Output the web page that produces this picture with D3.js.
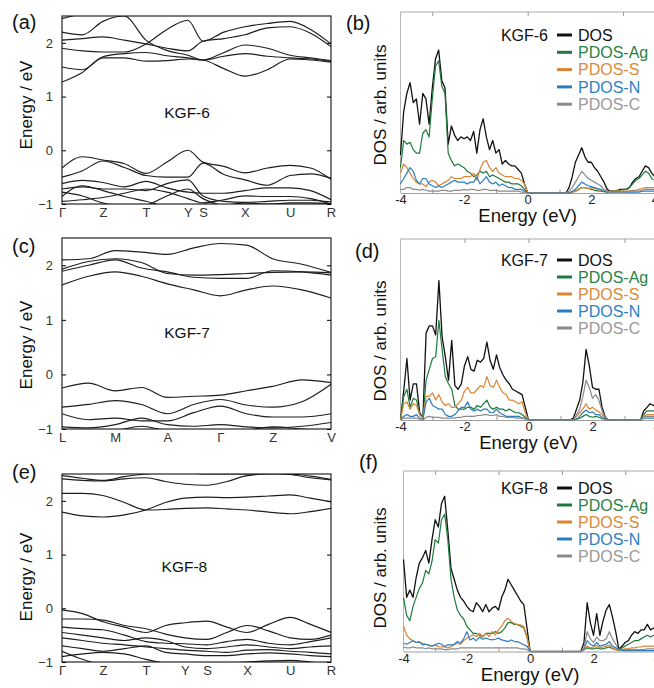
<!DOCTYPE html>
<html><head><meta charset="utf-8">
<script src="https://cdn.jsdelivr.net/npm/d3@7"></script>
<style>
body{margin:0;background:#fff}
text{font-family:"Liberation Sans",Arial,Helvetica,sans-serif}
</style>
</head><body>
<svg id="fig" width="654" height="688"></svg>
<script>
// ---------- band structure data (energies in eV along the k-path) ----------
const energyTicks = [-1, 0, 1, 2];

const kgf6Labels = ["Γ","Z","T","Y","S","X","U","R"];
const kgf6LabelPos = [0, 0.152, 0.312, 0.468, 0.524, 0.680, 0.848, 1.0];
const kgf6Grid = [0, 0.076, 0.152, 0.232, 0.312, 0.39, 0.468, 0.524, 0.602, 0.680, 0.764, 0.848, 0.924, 1.0];
const kgf6Bands = [
  [1.27, 1.45, 1.72, 1.72, 1.66, 1.67, 1.7, 1.68, 1.52, 1.38, 1.5, 1.7, 1.68, 1.64],
  [1.55, 1.5, 1.74, 1.8, 1.82, 1.76, 1.72, 1.68, 1.82, 1.96, 1.9, 1.77, 1.72, 1.67],
  [1.9, 1.85, 1.83, 1.83, 1.98, 2.25, 2.42, 2.03, 2.2, 2.3, 2.36, 2.4, 2.25, 1.98],
  [2.05, 2.08, 2.11, 2.05, 1.98, 1.9, 1.85, 2.03, 2.08, 2.15, 2.28, 2.3, 2.18, 1.93],
  [2.2, 2.15, 2.4, 2.5, 2.05, 1.86, 1.77, 1.68, 1.75, 1.8, 1.75, 1.72, 1.7, 1.66],
  [2.45, 2.55, 2.65, 2.6, 2.6, 2.6, 2.6, 2.6, 2.6, 2.6, 2.6, 2.6, 2.6, 2.6],
  [-0.33, -0.12, -0.18, -0.25, -0.43, -0.22, 0.0, -0.22, -0.3, -0.42, -0.33, -0.28, -0.33, -0.54],
  [-0.5, -0.38, -0.2, -0.32, -0.47, -0.5, -0.5, -0.24, -0.45, -0.55, -0.65, -0.47, -0.44, -0.52],
  [-0.62, -0.56, -0.6, -0.68, -0.58, -0.7, -0.78, -0.8, -0.8, -0.75, -0.7, -0.7, -0.75, -0.92],
  [-0.72, -0.68, -0.72, -0.72, -0.75, -0.62, -0.55, -0.85, -0.95, -0.97, -0.95, -0.93, -0.93, -0.96],
  [-0.78, -0.85, -0.98, -1.05, -1.02, -0.85, -0.72, -0.9, -1.02, -0.98, -1.0, -0.98, -0.98, -0.99],
  [-0.86, -0.66, -0.75, -0.86, -0.95, -1.05, -1.1, -1.1, -1.1, -1.1, -1.1, -1.1, -1.1, -1.1],
  [-0.95, -0.92, -0.88, -0.8, -0.72, -0.78, -0.9, -0.98, -0.92, -0.85, -0.86, -0.86, -0.9, -1.0]
];

const kgf7Labels = ["L","M","A","Γ","Z","V"];
const kgf7LabelPos = [0, 0.198, 0.392, 0.589, 0.783, 1.0];
const kgf7Grid = [0, 0.099, 0.198, 0.295, 0.392, 0.49, 0.589, 0.686, 0.783, 0.892, 1.0];
const kgf7Bands = [
  [1.64, 1.8, 1.88, 1.8, 1.66, 1.55, 1.44, 1.55, 1.62, 1.55, 1.4],
  [1.89, 2.0, 2.1, 1.95, 1.88, 1.78, 1.76, 1.76, 1.9, 1.88, 1.82],
  [1.93, 2.07, 2.12, 2.05, 1.85, 1.82, 1.83, 1.85, 1.87, 1.88, 1.86],
  [2.1, 2.12, 2.27, 2.24, 2.2, 2.32, 2.4, 2.37, 2.12, 2.02, 1.87],
  [-0.25, -0.16, -0.3, -0.24, -0.42, -0.4, -0.38, -0.3, -0.22, -0.1, -0.15],
  [-0.6, -0.55, -0.48, -0.55, -0.72, -0.55, -0.46, -0.56, -0.6, -0.5, -0.18],
  [-0.72, -0.83, -0.8, -0.85, -0.85, -0.7, -0.58, -0.72, -0.78, -0.78, -0.72],
  [-0.96, -0.98, -0.92, -0.8, -0.92, -0.95, -0.92, -0.96, -0.98, -0.95, -0.88],
  [-1.02, -1.05, -1.03, -0.95, -1.03, -1.05, -1.05, -1.02, -0.96, -1.0, -1.05]
];

const kgf8Labels = ["Γ","Z","T","Y","S","X","U","R"];
const kgf8LabelPos = [0, 0.152, 0.312, 0.457, 0.539, 0.688, 0.848, 1.0];
const kgf8Grid = [0, 0.076, 0.152, 0.232, 0.312, 0.385, 0.457, 0.539, 0.613, 0.688, 0.768, 0.848, 0.924, 1.0];
const kgf8Bands = [
  [1.79, 1.72, 1.7, 1.74, 1.83, 1.97, 2.05, 2.07, 2.06, 2.07, 2.09, 2.11, 2.05, 1.98],
  [2.14, 2.14, 2.1, 1.97, 1.83, 1.84, 1.86, 1.87, 1.85, 1.83, 1.79, 1.76, 1.8, 1.86],
  [2.41, 2.38, 2.37, 2.41, 2.43, 2.36, 2.31, 2.29, 2.36, 2.47, 2.5, 2.5, 2.46, 2.4],
  [2.47, 2.42, 2.38, 2.45, 2.5, 2.52, 2.52, 2.5, 2.5, 2.5, 2.52, 2.49, 2.43, 2.39],
  [-0.03, -0.1, -0.25, -0.35, -0.45, -0.32, -0.27, -0.24, -0.35, -0.45, -0.3, -0.17, -0.3, -0.45],
  [-0.2, -0.2, -0.22, -0.32, -0.38, -0.48, -0.55, -0.58, -0.45, -0.32, -0.42, -0.55, -0.58, -0.5],
  [-0.35, -0.38, -0.4, -0.5, -0.62, -0.65, -0.66, -0.68, -0.62, -0.58, -0.65, -0.68, -0.62, -0.55],
  [-0.45, -0.5, -0.55, -0.6, -0.55, -0.6, -0.72, -0.75, -0.72, -0.68, -0.72, -0.75, -0.72, -0.7],
  [-0.55, -0.6, -0.65, -0.68, -0.72, -0.75, -0.78, -0.8, -0.82, -0.78, -0.77, -0.8, -0.82, -0.85],
  [-0.7, -0.75, -0.8, -0.75, -0.7, -0.82, -0.85, -0.88, -0.88, -0.85, -0.83, -0.85, -0.88, -0.9],
  [-0.8, -0.95, -1.06, -1.1, -1.1, -1.1, -1.1, -1.1, -1.1, -1.1, -1.1, -1.1, -1.1, -1.1],
  [-0.9, -0.85, -0.82, -0.85, -0.95, -1.02, -1.05, -1.05, -1.02, -1.0, -0.98, -0.97, -1.0, -1.05]
];

// ---------- density of states (arb. units) on a 0.1 eV grid, -4.0 ... 4.0 eV ----------
const dosEnergy = d3.range(81).map(i => Math.round((-4 + i * 0.1) * 10) / 10);
const dosTicks = [-4, -2, 0, 2, 4];
const dosMinorTicks = [-3, -1, 1, 3];
const dosSeries = ["DOS", "PDOS-Ag", "PDOS-S", "PDOS-N", "PDOS-C"];

const dos6 = [21,45,55,61,50,52,38,55,52,38, 58,74,79,62,58,27,37,32,29,31, 30,31,29,34,22,35,41,31,24,29, 22,24,16,18,16,15,15,13,11,5,
  0,0,0,0,0,0,0,0,0,0, 0,0,0,3,9,17,21,25,20,17, 17,14,12,9,6,2,1,1,1,2, 2,2,3,6,8,9,12,15,14,11, 9];
const ag6 = [14,29,27,28,24,22,22,33,35,31, 52,70,73,59,55,22,18,15,16,15, 14,12,11,9,10,12,11,12,9,10, 9,8,7,6,6,5,5,5,4,2,
  0,0,0,0,0,0,0,0,0,0, 0,0,0,0,0.5,1,2,3,3,2.5, 2,1.5,1.2,1,0.7,0.5,1,1,1.5,1.5, 2,2,3,5,7,8,10,12,11,8, 7];
const s6 = [11,16,14,11,8,6,5,5,3.5,6, 7,6,4,5,6,7,9,8,8,8, 9,9,9,11,7,13,17,18,14,12, 14,11,10,9,9,9,8,8,7,5,
  0,0,0,0,0,0,0,0,0,0, 0,0,0,0,0.5,1,2,3,3,2.5, 3,2.5,2,1.5,1,0.5,1,1,1,1, 1,1,1,1.5,1.5,2,2.5,3,3,3, 3];
const n6 = [5,8,11,14,12,7,5,8,8,5, 4,3,4,3,4,5,6,7,6,6, 6,5,6,6,9,5,7,9,6,5, 6,4,5,4,3,3,2,2,2,1,
  0,0,0,0,0,0,0,0,0,0, 0,0,0,0,1,2,4,6,5,4, 3.5,3,2.5,2,1,0.5,0.5,0.5,0.5,0.5, 0.5,0.5,0.5,0.5,0.5,0.5,1,1,1,1, 1];
const c6 = [2,2,3,3,2,2,1.5,2,1.5,1, 1,1,1,1.5,1.5,1,1,1.5,1.5,1.5, 2,1.5,2,2,1.5,1.5,2,2,1.5,1.5, 1.5,1,1,1,1,1,1,1,0.5,0.5,
  0,0,0,0,0,0,0,0,0,0, 0,0,0,1,3,6,9,12,10,8, 7,6,5,4,2,1,0.5,0.5,0.5,0.5, 0.5,0.5,1,1,1,1,1.5,2,2,2, 2];

const dos7 = [0,16,34,11,20,20,4,1,48,52, 52,47,77,46,35,22,44,19,17,20, 30,35,28,27,33,32,34,43,33,28, 36,29,25,22,20,17,16,15,14,7,
  0,0,0,0,0,0,0,0,0,0, 0,0,0,0,1,6,11,21,39,30, 18,17,17,7,1.5,0,0,0,0,0, 0,0,0,0,0,0,5,7,9,8, 8];
const ag7 = [0,13,17,7,12,11,3,1,22,28, 34,35,55,39,24,20,17,8,6,6, 6,7,7,6,8,7,9,11,7,6, 7,6,6,5,6,5,4,4,3,1.5,
  0,0,0,0,0,0,0,0,0,0, 0,0,0,0,0,0.5,1,2,3,2, 1.5,2,1.5,0.7,0.3,0,0,0,0,0, 0,0,0,0,0,0,3,5,5,5, 5];
const s7 = [0,9,10,6,9,8,3,1,13,13, 15,11,14,10,8,9,7,7,9,11, 16,18,15,15,17,19,18,24,19,18, 22,18,15,14,11,11,10,9,10,4,
  0,0,0,0,0,0,0,0,0,0, 0,0,0,0,0,2,4,6,9,6, 7,5.5,4.5,3,1,0,0,0,0,0, 0,0,0,0,0,0,2,3,3,3, 3];
const n7 = [0,2,3,2,2,3,1,0,10,12, 8,7,6,6,3,2,2,3,5,7, 7,10,6,5,6,5,6,6,4,4, 6,4,3,2,2,2,2,2,1,1,
  0,0,0,0,0,0,0,0,0,0, 0,0,0,0,0,0.5,2,4,5.5,4, 4.5,3,3,1.5,0.5,0,0,0,0,0, 0,0,0,0,0,0,1,1,1,1, 1];
const c7 = [0,1,1,1,1,1,0.5,0,1.5,2, 1.5,1.5,1.5,1,1,1,1,1,1.5,1.5, 2,2,2,2,2.5,2.5,3,3,2.5,2.5, 3,2,2,1.5,1.5,1.5,1,1,1,0.5,
  0,0,0,0,0,0,0,0,0,0, 0,0,0,0,0,3,6,13,22,18, 12,14,11,5,1,0,0,0,0,0, 0,0,0,0,0,0,2,2,2,2, 2];

const dos8 = [51,30,34,30,41,49,52,56,49,62, 73,69,82,86,67,46,40,34,30,28, 25,23,22,27,25,22,26,22,24,25, 23,30,34,40,37,34,31,28,26,13,
  0,0,0,0,0,0,0,0,0,0, 0,0,0,0,0,0,0,5,27,16, 9,21,9,17,23,26,19,11,1.3,3, 5,6,9,11,10,12,12,15,12,13, 12];
const ag8 = [30,20,17,25,30,35,38,45,43,50, 62,60,73,76,62,40,30,23,20,18, 14,12,10,10,9,8,10,10,10,11, 10,11,13,16,16,15,15,14,13,8,
  0,0,0,0,0,0,0,0,0,0, 0,0,0,0,0,0,0,1,2,1.5, 1.5,2,1.5,1.5,2,2.5,1.5,1,1,2, 3,4,5,6,6,7,8,9,8,9, 9];
const s8 = [14,9,7,6,5,5,4.6,4,3.5,3, 3.7,2.7,2.5,2.7,2,2.7,3.7,4.6,4,6, 7.4,8.3,9.2,8.3,10.2,8.3,10.2,8.3,11,9.2, 12,14,17,18.4,16.6,15.7,14.8,14.8,13.8,8,
  0,0,0,0,0,0,0,0,0,0, 0,0,0,0,0,0,0,1,3,2, 2.5,3.5,2,2.5,3,3.5,2,1,0.5,1, 1.5,1.5,2,2,2.5,2.5,3,3,3,3, 3];
const n8 = [4.6,4,5,6,5,5.5,3.7,4,3.5,3, 3.7,4.6,4,2.7,3.7,3.7,4,5.5,4.6,7, 11,6.4,7.4,6,8,6.8,7.4,6.8,6.4,6.8, 7.4,6.4,6,5.5,6.4,5.5,5.5,4.6,3.7,3,
  0,0,0,0,0,0,0,0,0,0, 0,0,0,0,0,0,0,1.5,6,4, 3,5,3,3.5,4,5.5,3,2,1,0.5, 0.5,0.5,0.5,0.5,0.5,0.5,0.5,0.5,0.5,0.5, 0.5];
const c8 = [2.5,2,2,2.5,2,2,2,1.5,2,1.5, 1.5,1.5,1.5,1,1,1.5,1.5,1.5,2,2, 2,2,2,2,2,2,2,2,2,2, 2,2,2,2,2,2,2,1.5,1.5,1,
  0,0,0,0,0,0,0,0,0,0, 0,0,0,0,0,0,0,2,11,7, 5,8,6,6,7,11,7,4,1,1, 1,1,1,1,1,1,1,1.5,1.5,1.5, 1.5];

// ---------- drawing ----------
const lineColors = ["#111111", "#1f7a3d", "#dd8431", "#2a7dbf", "#8a8a8a"];
const textColors = ["#111111", "#2a8245", "#d98a3a", "#2f80c2", "#9a9a9a"];

const svg = d3.select("#fig");
svg.append("rect").attr("width", 654).attr("height", 688).attr("fill", "#fff");
const defs = svg.append("defs");

function bandPanel(p) {
  const x = d3.scaleLinear().domain([0, 1]).range([p.left, p.right]);
  const y = d3.scaleLinear().domain([-1, 2.5]).range([p.bottom, p.top]);
  const g = svg.append("g");
  defs.append("clipPath").attr("id", p.id).append("rect")
    .attr("x", p.left).attr("y", p.top).attr("width", p.right - p.left).attr("height", p.bottom - p.top);

  const line = d3.line().x((d, i) => x(p.grid[i])).y(d => y(d)).curve(d3.curveMonotoneX);
  g.append("g").attr("clip-path", `url(#${p.id})`)
    .selectAll("path").data(p.bands).join("path")
    .attr("d", line).attr("fill", "none").attr("stroke", "#1e1e1e").attr("stroke-width", 1.15);

  // frame
  g.append("rect").attr("x", p.left).attr("y", p.top)
    .attr("width", p.right - p.left).attr("height", p.bottom - p.top)
    .attr("fill", "none").attr("stroke", "#111").attr("stroke-width", 1.1);

  const ya = g.append("g").attr("transform", `translate(${p.left},0)`)
    .call(d3.axisLeft(y).tickValues(energyTicks).tickSizeInner(-4).tickSizeOuter(0).tickPadding(9).tickFormat(d3.format("d")));
  ya.select(".domain").remove();
  ya.selectAll("text").attr("font-size", 13).attr("fill", "#333").style("font-family", "Liberation Sans, Arial, sans-serif");
  const yr = g.append("g").attr("transform", `translate(${p.right},0)`)
    .call(d3.axisRight(y).tickValues(energyTicks).tickSizeInner(-4).tickSizeOuter(0).tickFormat(""));
  yr.select(".domain").remove();

  const xa = g.append("g").attr("transform", `translate(0,${p.bottom})`)
    .call(d3.axisBottom(x).tickValues(p.labelPos).tickSize(0).tickPadding(4).tickFormat((d, i) => p.labels[i]));
  xa.select(".domain").remove();
  xa.selectAll("text").attr("font-size", 13).attr("fill", "#333").style("font-family", "Liberation Sans, Arial, sans-serif");

  g.append("text").attr("x", p.left + (p.nameX || 0.465) * (p.right - p.left)).attr("y", p.nameY)
    .attr("text-anchor", "middle").attr("font-size", 15.5).attr("fill", "#111").text(p.name);

  g.append("text").attr("transform", `translate(${p.titleX},${p.titleY}) rotate(-90)`)
    .attr("text-anchor", "middle").attr("font-size", 17).attr("fill", "#111").text("Energy / eV");

  g.append("text").attr("x", 12).attr("y", p.tagY).attr("font-size", 20).attr("fill", "#111").text(p.tag);
}

function dosPanel(p) {
  const x = d3.scaleLinear().domain([-4, 4]).range([p.left, p.left + 8 * p.perEV]);
  const y = d3.scaleLinear().domain([0, 100]).range([p.bottom, p.top]);
  const g = svg.append("g");
  const xEnd = 660;

  // light frame: top, left, bottom
  g.append("line").attr("x1", p.left).attr("x2", xEnd).attr("y1", p.top).attr("y2", p.top)
    .attr("stroke", "#a8a8a8").attr("stroke-width", 1);
  g.append("line").attr("x1", p.left).attr("x2", p.left).attr("y1", p.top).attr("y2", p.bottom)
    .attr("stroke", "#b5b5b5").attr("stroke-width", 1);
  const xa = g.append("g").attr("transform", `translate(0,${p.bottom})`)
    .call(d3.axisBottom(x).tickValues(dosTicks).tickSize(0).tickPadding(2).tickFormat(d => d < 0 ? "-" + Math.abs(d) : d));
  xa.select(".domain").attr("stroke", "#a0a0a0");
  xa.selectAll("text").attr("font-size", 13).attr("fill", "#222").style("font-family", "Liberation Sans, Arial, sans-serif");
  const xm = g.append("g").attr("transform", `translate(0,${p.bottom})`)
    .call(d3.axisBottom(x).tickValues(dosMinorTicks).tickSizeInner(-4).tickSizeOuter(0).tickFormat(""));
  xm.select(".domain").remove();
  xm.selectAll("line").attr("stroke", "#999");
  const xt = g.append("g").attr("transform", `translate(0,${p.top})`)
    .call(d3.axisTop(x).tickValues(p.topTicks).tickSizeInner(-4).tickSizeOuter(0).tickFormat(""));
  xt.select(".domain").remove();
  xt.selectAll("line").attr("stroke", "#999");

  const line = d3.line().x((d, i) => x(dosEnergy[i])).y(d => y(d));
  g.append("g").selectAll("path").data(p.series).join("path")
    .attr("d", line).attr("fill", "none")
    .attr("stroke", (d, i) => lineColors[i])
    .attr("stroke-width", (d, i) => i === 0 ? 1.3 : 1.2)
    .attr("stroke-linejoin", "round");

  // axis titles
  g.append("text").attr("x", x(0)).attr("y", p.bottom + 29).attr("text-anchor", "middle")
    .attr("font-size", 18.5).attr("fill", "#111").text("Energy (eV)");
  g.append("text").attr("transform", `translate(${p.ylabX},${p.ylabY}) rotate(-90)`)
    .attr("text-anchor", "middle").attr("dominant-baseline", "central")
    .attr("font-size", 17).attr("fill", "#111").text("DOS / arb. units");
  g.append("text").attr("x", p.tagX).attr("y", p.tagY).attr("font-size", 20).attr("fill", "#111").text(p.tag);

  // legend
  const lg = g.append("g");
  lg.append("text").attr("x", p.legX - 9).attr("y", p.legY).attr("dy", "0.35em")
    .attr("text-anchor", "end").attr("font-size", 16).attr("fill", "#111").text(p.name);
  dosSeries.forEach((s, i) => {
    const yy = p.legY + i * p.legStep;
    lg.append("line").attr("x1", p.legX).attr("x2", p.legX + 15).attr("y1", yy).attr("y2", yy)
      .attr("stroke", lineColors[i]).attr("stroke-width", 3);
    lg.append("text").attr("x", p.legX + 21).attr("y", yy).attr("dy", "0.35em")
      .attr("font-size", 16).attr("fill", textColors[i]).text(s);
  });
}

bandPanel({id: "clipA", left: 62, right: 331, top: 16, bottom: 204, grid: kgf6Grid, bands: kgf6Bands,
  labels: kgf6Labels, labelPos: kgf6LabelPos, name: "KGF-6", nameY: 118, titleX: 32, titleY: 105, tag: "(a)", tagY: 29});
bandPanel({id: "clipC", left: 62, right: 331, top: 238, bottom: 429, grid: kgf7Grid, bands: kgf7Bands,
  labels: kgf7Labels, labelPos: kgf7LabelPos, name: "KGF-7", nameY: 338, titleX: 32, titleY: 345, tag: "(c)", tagY: 253});
bandPanel({id: "clipE", left: 62, right: 331, top: 474, bottom: 662, grid: kgf8Grid, bands: kgf8Bands,
  labels: kgf8Labels, labelPos: kgf8LabelPos, name: "KGF-8", nameX: 0.455, nameY: 572, titleX: 32, titleY: 577, tag: "(e)", tagY: 479});

dosPanel({left: 400.5, perEV: 31.8, top: 12, bottom: 193, series: [dos6, ag6, s6, n6, c6], topTicks: [-3, 0, 3],
  name: "KGF-6", legX: 557, legY: 35, legStep: 17.3, ylabX: 380, ylabY: 105, tag: "(b)", tagX: 346, tagY: 30});
dosPanel({left: 400.5, perEV: 32, top: 239, bottom: 420, series: [dos7, ag7, s7, n7, c7], topTicks: [-2, 0, 3],
  name: "KGF-7", legX: 557, legY: 260, legStep: 17, ylabX: 380, ylabY: 341, tag: "(d)", tagX: 355, tagY: 258});
dosPanel({left: 403.5, perEV: 31.67, top: 471, bottom: 651.5, series: [dos8, ag8, s8, n8, c8], topTicks: [-3, -1, 1, 3],
  name: "KGF-8", legX: 557, legY: 488, legStep: 17, ylabX: 380, ylabY: 568, tag: "(f)", tagX: 359, tagY: 469});
</script>
</body></html>
